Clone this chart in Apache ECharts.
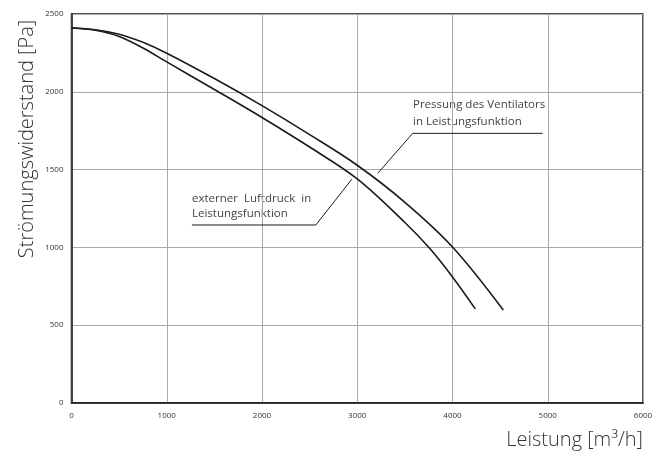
<!DOCTYPE html>
<html>
<head>
<meta charset="utf-8">
<script src="https://cdn.jsdelivr.net/npm/echarts@6/dist/echarts.min.js"></script>
<style>html,body{margin:0;padding:0;background:#fff}#c{width:665px;height:464px}</style>
</head>
<body>
<div id="c"></div>
<script>
// Pressung des Ventilators (fan pressure) [m3/h, Pa]
const fanX = [0, 250, 500, 750, 1000, 1500, 2000, 2500, 3000, 3500, 4000, 4533];
const fanY = [2410, 2399, 2370, 2318, 2248, 2085, 1911, 1725, 1528, 1290, 1003, 598];
// externer Luftdruck (external pressure)
const extX = [0, 250, 500, 750, 1000, 1500, 2000, 2500, 3000, 3500, 3760, 4000, 4239];
const extY = [2410, 2396, 2356, 2282, 2192, 2015, 1835, 1645, 1440, 1160, 994, 810, 605];
// leader lines for annotations (data coords)
const fanLeaderX = [4946, 3582, 3215];
const fanLeaderY = [1733, 1733, 1476];
const extLeaderX = [1264, 2565, 2943];
const extLeaderY = [1144, 1144, 1438];

const xTickLabels = ['0','1000','2000','3000','4000','5000','6000'];
const yTickLabels = ['0','500','1000','1500','2000','2500'];

const zip = (a, b) => a.map((v, i) => [v, b[i]]);
const chart = echarts.init(document.getElementById('c'));
const FONT = '"Open Sans", "Noto Sans", sans-serif';
const annStyle = { fontSize: 11.5, fontFamily: FONT, fill: '#444', align: 'left', verticalAlign: 'middle' };
chart.setOption({
  animation: false,
  grid: { left: 71.5, right: 22, top: 14, bottom: 61, show: true, borderColor: '#1a1a1a', borderWidth: 1.5, containLabel: false },
  xAxis: {
    type: 'value', min: 0, max: 6000, interval: 1000,
    axisLine: { show: true, lineStyle: { color: '#1a1a1a', width: 1.5 } },
    axisTick: { show: false },
    axisLabel: { fontSize: 8, color: '#333', fontFamily: FONT, margin: 9,
      formatter: v => xTickLabels[Math.round(v / 1000)] },
    splitLine: { show: true, lineStyle: { color: '#aaaaaa', width: 1 } }
  },
  yAxis: {
    type: 'value', min: 0, max: 2500, interval: 500,
    axisLine: { show: true, lineStyle: { color: '#1a1a1a', width: 1.5 } },
    axisTick: { show: false },
    axisLabel: { fontSize: 8, color: '#333', fontFamily: FONT, margin: 8,
      formatter: v => yTickLabels[Math.round(v / 500)] },
    splitLine: { show: true, lineStyle: { color: '#aaaaaa', width: 1 } }
  },
  series: [
    { type: 'line', data: zip(fanX, fanY), smooth: 0.35, showSymbol: false, lineStyle: { color: '#1a1a1a', width: 1.6 } },
    { type: 'line', data: zip(extX, extY), smooth: 0.35, showSymbol: false, lineStyle: { color: '#1a1a1a', width: 1.6 } },
    { type: 'line', data: zip(fanLeaderX, fanLeaderY), showSymbol: false, silent: true, lineStyle: { color: '#1a1a1a', width: 1 } },
    { type: 'line', data: zip(extLeaderX, extLeaderY), showSymbol: false, silent: true, lineStyle: { color: '#1a1a1a', width: 1 } }
  ],
  graphic: [
    { type: 'text', x: 27, y: 139, rotation: Math.PI / 2,
      style: { text: 'Strömungswiderstand [Pa]', fontSize: 20, fontWeight: 300, fontFamily: FONT, fill: '#333', align: 'center', verticalAlign: 'middle' } },
    { type: 'text', x: 643, y: 440,
      style: { text: 'Leistung [m³/h]', fontSize: 20, fontWeight: 300, fontFamily: FONT, fill: '#333', align: 'right', verticalAlign: 'middle' } },
    { type: 'text', x: 413, y: 105, style: Object.assign({ text: 'Pressung des Ventilators' }, annStyle) },
    { type: 'text', x: 413, y: 122, style: Object.assign({ text: 'in Leistungsfunktion' }, annStyle) },
    { type: 'text', x: 192, y: 199, style: Object.assign({ text: 'externer  Luftdruck  in' }, annStyle) },
    { type: 'text', x: 192, y: 214, style: Object.assign({ text: 'Leistungsfunktion' }, annStyle) }
  ]
});
</script>
</body>
</html>
